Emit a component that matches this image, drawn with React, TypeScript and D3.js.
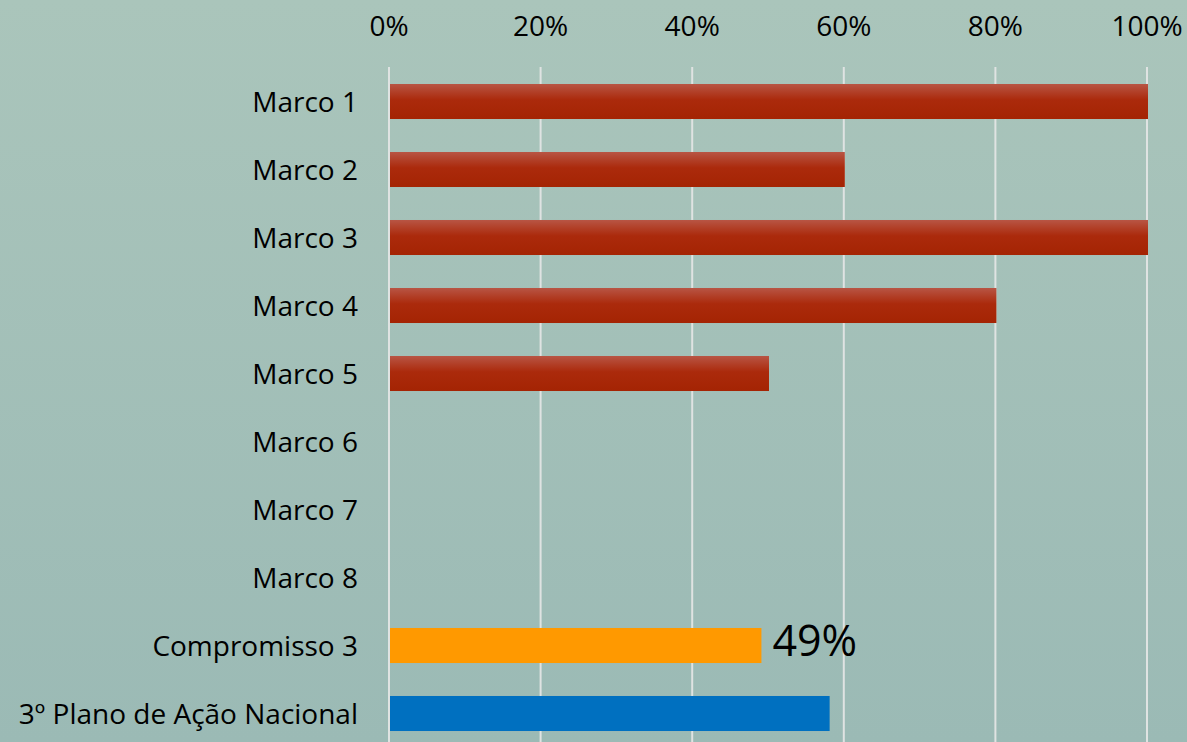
import * as d3 from "d3";
import React, { useEffect, useRef } from "react";

const categories = [
  "Marco 1", "Marco 2", "Marco 3", "Marco 4", "Marco 5",
  "Marco 6", "Marco 7", "Marco 8", "Compromisso 3", "3º Plano de Ação Nacional",
];
const values = [1.0, 0.6, 1.0, 0.8, 0.5, 0, 0, 0, 0.49, 0.58];
const barKinds = ["red", "red", "red", "red", "red", "red", "red", "red", "orange", "blue"];
const tickValues = [0, 0.2, 0.4, 0.6, 0.8, 1.0];
const calloutIndex = 8;
const calloutText = "49%";

const W = 1187;
const H = 742;
const FONT = "'Open Sans', sans-serif";

export default function App() {
  const svgRef = useRef<SVGSVGElement>(null);

  useEffect(() => {
    const svg = d3.select(svgRef.current);
    svg.selectAll("*").remove();

    const defs = svg.append("defs");
    const bg = defs.append("linearGradient").attr("id", "bg").attr("x1", 0).attr("y1", 0).attr("x2", 0).attr("y2", 1);
    bg.append("stop").attr("offset", "0%").attr("stop-color", "#aac5bb");
    bg.append("stop").attr("offset", "100%").attr("stop-color", "#9bbab5");
    const red = defs.append("linearGradient").attr("id", "redbar").attr("x1", 0).attr("y1", 0).attr("x2", 0).attr("y2", 1);
    red.append("stop").attr("offset", "0%").attr("stop-color", "#b85544");
    red.append("stop").attr("offset", "45%").attr("stop-color", "#ab2a0c");
    red.append("stop").attr("offset", "100%").attr("stop-color", "#a42403");

    svg.append("rect").attr("width", W).attr("height", H).attr("fill", "url(#bg)");

    const x = d3.scaleLinear().domain([0, 1]).range([389, 1147]);
    const y = d3.scaleBand().domain(categories).range([67.5, 747.5]).paddingInner(0.485).paddingOuter(0.2425);

    // gridlines
    svg.append("g")
      .selectAll("line")
      .data(tickValues)
      .enter()
      .append("line")
      .attr("x1", (d) => x(d))
      .attr("x2", (d) => x(d))
      .attr("y1", 67)
      .attr("y2", H)
      .attr("stroke", "#dfe3e2")
      .attr("stroke-width", 2);

    // top axis labels
    svg.append("g")
      .selectAll("text")
      .data(tickValues)
      .enter()
      .append("text")
      .attr("x", (d) => x(d))
      .attr("y", 36)
      .attr("text-anchor", "middle")
      .attr("font-family", FONT)
      .attr("font-size", 28)
      .attr("fill", "#000")
      .text((d) => d3.format(".0%")(d));

    // category labels
    svg.append("g")
      .selectAll("text")
      .data(categories)
      .enter()
      .append("text")
      .attr("x", 358)
      .attr("y", (d) => (y(d) as number) + y.bandwidth() / 2 + 10)
      .attr("text-anchor", "end")
      .attr("font-family", FONT)
      .attr("font-size", 28)
      .attr("fill", "#000")
      .text((d) => d);

    const fillFor = (k: string) => (k === "red" ? "url(#redbar)" : k === "orange" ? "#ff9900" : "#0070c0");

    svg.append("g")
      .selectAll("rect")
      .data(categories.map((c, i) => ({ c, v: values[i], k: barKinds[i] })).filter((d) => d.v > 0))
      .enter()
      .append("rect")
      .attr("x", x(0) + 1)
      .attr("y", (d) => y(d.c) as number)
      .attr("width", (d) => x(d.v) - x(0))
      .attr("height", y.bandwidth())
      .attr("fill", (d) => fillFor(d.k));

    const cy = (y(categories[calloutIndex]) as number) + y.bandwidth() / 2;
    svg.append("text")
      .attr("x", x(values[calloutIndex]) + 12)
      .attr("y", cy + 10)
      .attr("font-family", FONT)
      .attr("font-size", 43)
      .attr("fill", "#000")
      .text(calloutText);
  }, []);

  return (
    <svg ref={svgRef} width={W} height={H} style={{ position: "absolute", left: 0, top: 0 }} />
  );
}
